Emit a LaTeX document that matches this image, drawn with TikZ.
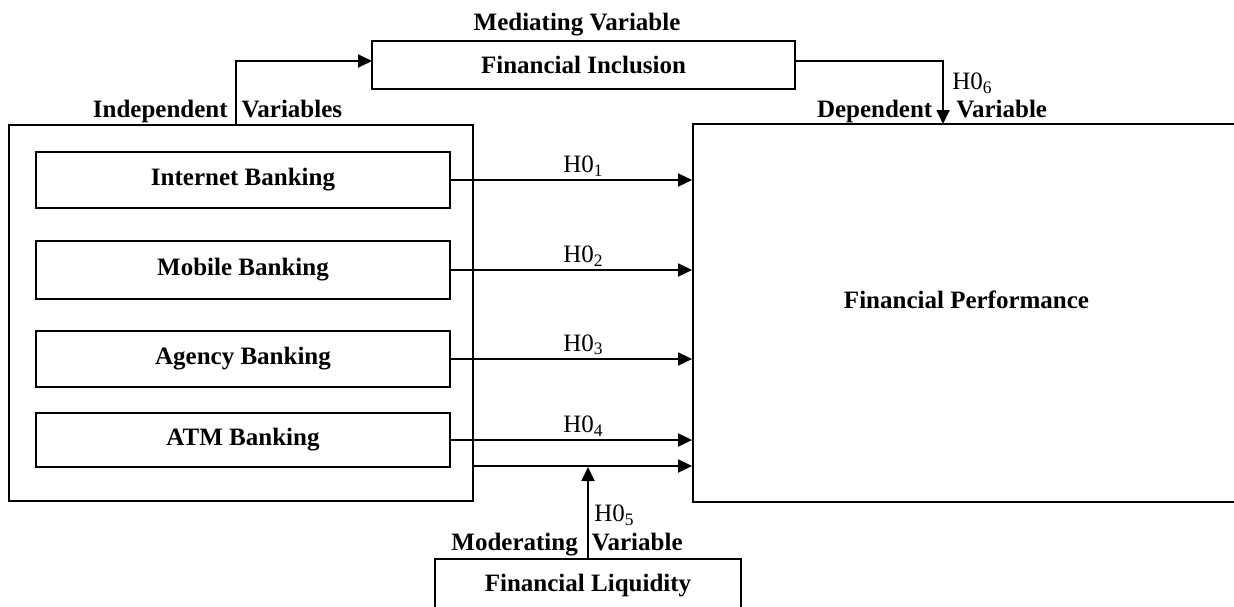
\documentclass[tikz,border=0pt]{standalone}
\usepackage{fontspec}
\setmainfont{Liberation Serif}
\usetikzlibrary{arrows.meta}
\begin{document}
\begin{tikzpicture}[x=0.5pt,y=-0.5pt,
  every node/.style={font=\fontsize{12.5}{15}\selectfont},
  box/.style={draw,line width=0.9pt,rectangle,inner sep=0pt,font=\fontsize{12.5}{15}\selectfont\bfseries},
  heading/.style={font=\fontsize{12.5}{15}\selectfont\bfseries,inner sep=0pt},
  hlab/.style={font=\fontsize{12.5}{15}\selectfont,inner sep=0pt},
  arr/.style={line width=0.9pt,-{Triangle[length=7pt,width=6.5pt]}},
  conn/.style={line width=0.9pt}]
\useasboundingbox (0,0) rectangle (1234,606);
% boxes
\node[box,minimum width=211.5pt,minimum height=24pt] (fi) at (583.5,65) {Financial Inclusion};
\node[box,minimum width=232pt,minimum height=188pt] (indep) at (241,313) {};
\node[box,minimum width=207pt,minimum height=28pt] (ib) at (243,180) {Internet Banking};
\node[box,minimum width=207pt,minimum height=29pt] (mb) at (243,270) {Mobile Banking};
\node[box,minimum width=207pt,minimum height=28pt] (ab) at (243,359) {Agency Banking};
\node[box,minimum width=207pt,minimum height=27pt] (atm) at (243,440) {ATM Banking};
\node[box,minimum width=273.5pt,minimum height=189pt] (dep) at (966.5,313) {};
\node[heading] (fp) at (966.5,300) {Financial Performance};
\node[box,minimum width=153pt,minimum height=30.5pt,text depth=0pt] (liq) at (588,589.5) {};
\node[heading] (liqt) at (588,586) {Financial Liquidity};
% headings
\node[heading] (medh) at (577,25) {Mediating Variable};
\node[heading] (indh) at (217.5,111) {Independent\hspace{7pt}Variables};
\node[heading] (deph) at (932,111) {Dependent\hspace{12pt}Variable};
\node[heading] (modh) at (567,545) {Moderating\hspace{7pt}Variable};
% coordinates
\coordinate (c1) at (236,125);
\coordinate (c2) at (372,61);
\coordinate (c3) at (795,61);
\coordinate (c4) at (943,124);
\coordinate (c5) at (473,466);
\coordinate (c6) at (588,467);
% connectors
\draw[arr] (c1) |- (c2);
\draw[arr] (c3) -| (c4);
\node[hlab,anchor=west] (h6) at (952,83) {H0\textsubscript{6}};
\draw[arr] (ib.east) -- (ib.east -| dep.west) node[hlab,pos=0.55,above=1.5pt] (h1) {H0\textsubscript{1}};
\draw[arr] (mb.east) -- (mb.east -| dep.west) node[hlab,pos=0.55,above=1.5pt] (h2) {H0\textsubscript{2}};
\draw[arr] (ab.east) -- (ab.east -| dep.west) node[hlab,pos=0.55,above=1.5pt] (h3) {H0\textsubscript{3}};
\draw[arr] (atm.east) -- (atm.east -| dep.west) node[hlab,pos=0.55,above=1.5pt] (h4) {H0\textsubscript{4}};
\draw[arr] (c5) -- (c5 -| dep.west);
\draw[arr] (liq.north) -- (c6);
\node[hlab,anchor=west] (h5) at (594,515) {H0\textsubscript{5}};
\end{tikzpicture}
\end{document}
